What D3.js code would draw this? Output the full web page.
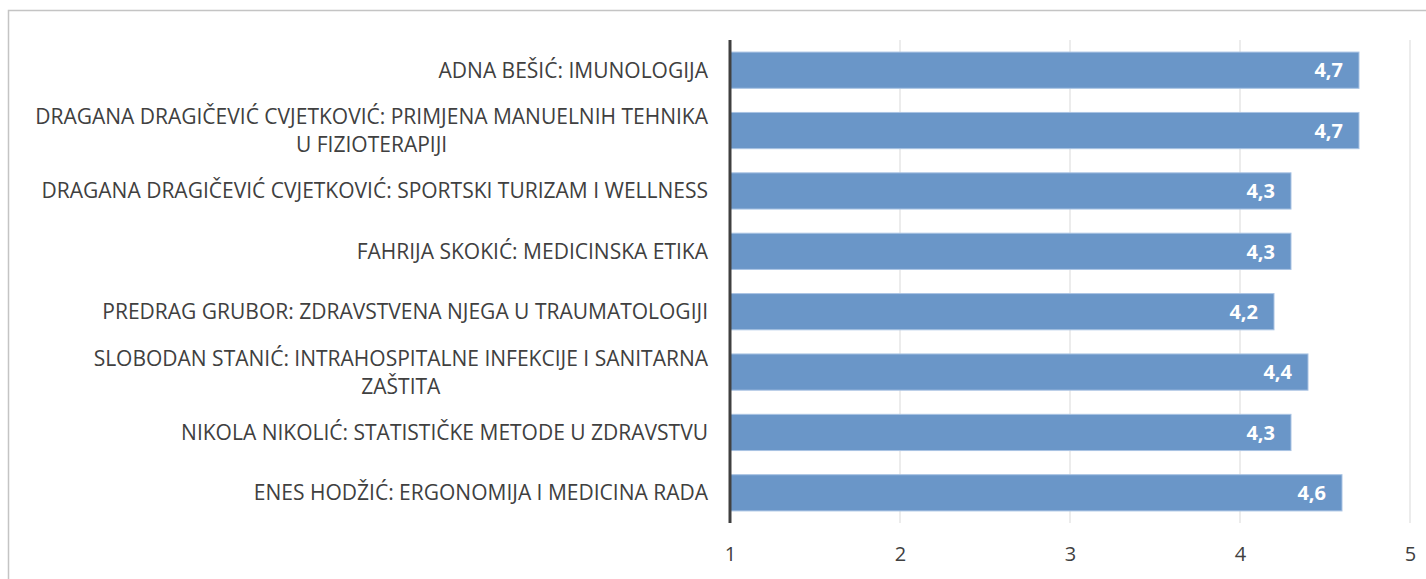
<!DOCTYPE html>
<html>
<head>
<meta charset="utf-8">
<script src="https://cdn.jsdelivr.net/npm/d3@7"></script>
<style>
  body { margin: 0; background: #fff; }
  svg text { font-family: "Open Sans", sans-serif; }
</style>
</head>
<body>
<div id="plot"></div>
<script>
// data
var categories = [
  "ADNA BEŠIĆ: IMUNOLOGIJA",
  "DRAGANA DRAGIČEVIĆ CVJETKOVIĆ: PRIMJENA MANUELNIH TEHNIKA U FIZIOTERAPIJI",
  "DRAGANA DRAGIČEVIĆ CVJETKOVIĆ: SPORTSKI TURIZAM I WELLNESS",
  "FAHRIJA SKOKIĆ: MEDICINSKA ETIKA",
  "PREDRAG GRUBOR: ZDRAVSTVENA NJEGA U TRAUMATOLOGIJI",
  "SLOBODAN STANIĆ: INTRAHOSPITALNE INFEKCIJE I SANITARNA ZAŠTITA",
  "NIKOLA NIKOLIĆ: STATISTIČKE METODE U ZDRAVSTVU",
  "ENES HODŽIĆ: ERGONOMIJA I MEDICINA RADA"
];
var values = [4.7, 4.7, 4.3, 4.3, 4.2, 4.4, 4.3, 4.6];
var xTicks = [1, 2, 3, 4, 5];

var width = 1426, height = 579;
var svg = d3.select("#plot").append("svg")
    .attr("width", width)
    .attr("height", height);

// chart frame
svg.append("rect")
    .attr("x", 8.5).attr("y", 10.5)
    .attr("width", 1440).attr("height", 620)
    .attr("fill", "none")
    .attr("stroke", "#c4c4c4")
    .attr("stroke-width", 1.5);

var x = d3.scaleLinear().domain([1, 5]).range([730, 1410]);
var y = d3.scaleBand().domain(categories).range([40, 523])
    .paddingInner(0.4).paddingOuter(0.2);

// gridlines
svg.append("g").selectAll("line")
    .data(xTicks.slice(1))
    .join("line")
    .attr("x1", d => x(d)).attr("x2", d => x(d))
    .attr("y1", 40).attr("y2", 523)
    .attr("stroke", "#d9d9d9")
    .attr("stroke-width", 1);

// bars
svg.append("g").selectAll("rect")
    .data(values)
    .join("rect")
    .attr("x", x(1))
    .attr("y", (d, i) => y(categories[i]))
    .attr("width", d => x(d) - x(1))
    .attr("height", y.bandwidth())
    .attr("fill", "#6a96c8")
    .attr("stroke", "#a9c3e3")
    .attr("stroke-width", 1);

// value labels
svg.append("g").selectAll("text")
    .data(values)
    .join("text")
    .attr("x", d => x(d) - 16)
    .attr("y", (d, i) => y(categories[i]) + y.bandwidth() / 2)
    .attr("dy", "0.36em")
    .attr("text-anchor", "end")
    .attr("fill", "#fff")
    .attr("font-weight", "bold")
    .attr("font-size", 20)
    .text(d => String(d).replace(".", ","));

// x axis
var xAxis = svg.append("g")
    .attr("transform", "translate(0,523)")
    .call(d3.axisBottom(x).tickValues(xTicks).tickSize(0).tickPadding(24)
      .tickFormat(d3.format("d")));
xAxis.select(".domain").remove();
xAxis.selectAll("text")
    .attr("font-size", 20)
    .attr("fill", "#404040")
    .style("font-family", "'Open Sans', sans-serif");

// category axis line
svg.append("line")
    .attr("x1", x(1)).attr("x2", x(1))
    .attr("y1", 40).attr("y2", 523)
    .attr("stroke", "#404040")
    .attr("stroke-width", 3);

// category labels, wrapped, block right aligned and lines centered
var labelRight = 708, maxW = 684, lineH = 28;
var labels = svg.append("g");
categories.forEach(function (c) {
  var t = labels.append("text")
      .attr("font-size", 21)
      .attr("fill", "#404040");
  var words = c.split(" "), lines = [], cur = "";
  words.forEach(function (w) {
    var test = cur ? cur + " " + w : w;
    t.text(test);
    if (t.node().getComputedTextLength() > maxW && cur) {
      lines.push(cur); cur = w;
    } else cur = test;
  });
  lines.push(cur);
  t.text(null);
  var widths = lines.map(function (l) { t.text(l); return t.node().getComputedTextLength(); });
  t.text(null);
  var blockW = d3.max(widths);
  var cx = labelRight - blockW / 2;
  var cy = y(c) + y.bandwidth() / 2 - (lines.length - 1) * lineH / 2;
  t.attr("text-anchor", "middle");
  lines.forEach(function (l, i) {
    t.append("tspan")
      .attr("x", cx)
      .attr("y", cy + i * lineH)
      .attr("dy", "0.36em")
      .text(l);
  });
});
</script>
</body>
</html>
